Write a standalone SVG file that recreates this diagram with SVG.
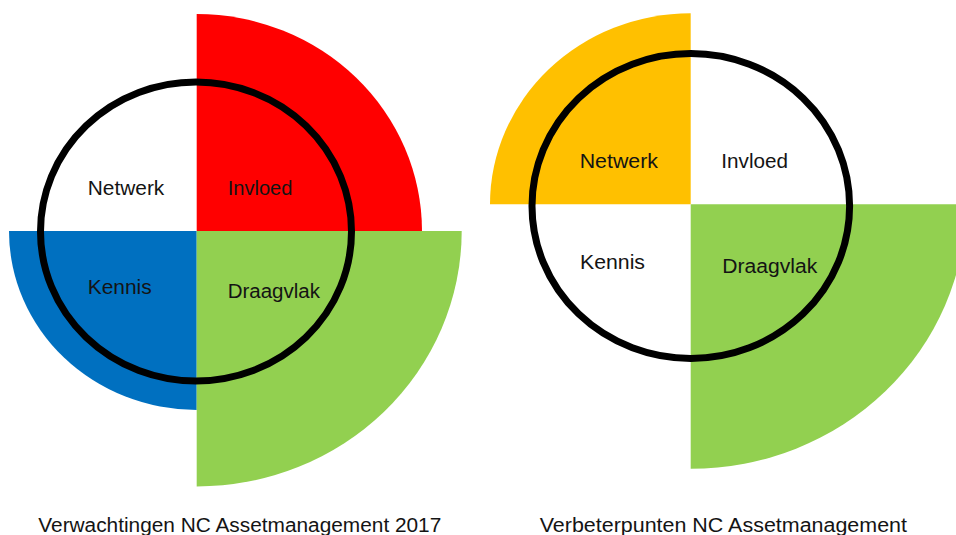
<svg xmlns="http://www.w3.org/2000/svg" width="956" height="535" viewBox="0 0 956 535">
<style>
.lbl{font-family:"Liberation Sans",Arial,sans-serif;font-size:20px;fill:#141414}
.cap{font-family:"Liberation Sans",Arial,sans-serif;font-size:20px;fill:#141414}
.ring{fill:none;stroke:#000;stroke-width:7}
</style>
<rect width="956" height="535" fill="#fff"/>
<g id="left-diagram">
  <g id="left-invloed">
    <path d="M196.7,231 L196.7,14 A225.3,217 0 0 1 422,231 Z" fill="#FF0000"/>
  </g>
  <g id="left-kennis">
    <path d="M196.7,231 L9,231 A187.7,179 0 0 0 196.7,410 Z" fill="#0070C0"/>
  </g>
  <g id="left-draagvlak">
    <path d="M196.7,231 L461.7,231 A265,255.5 0 0 1 196.7,486.5 Z" fill="#92D050"/>
  </g>
  <g id="left-ring">
    <ellipse class="ring" cx="196" cy="231.5" rx="155.5" ry="149.5"/>
  </g>
  <g id="left-labels">
    <text class="lbl" x="87.7" y="195" textLength="76.6" lengthAdjust="spacingAndGlyphs">Netwerk</text>
    <text class="lbl" x="227.7" y="195" textLength="64.7" lengthAdjust="spacingAndGlyphs">Invloed</text>
    <text class="lbl" x="87.7" y="294.3" textLength="64" lengthAdjust="spacingAndGlyphs">Kennis</text>
    <text class="lbl" x="227.7" y="297.7" textLength="92.3" lengthAdjust="spacingAndGlyphs">Draagvlak</text>
  </g>
  <text class="cap" x="38.3" y="532" textLength="403" lengthAdjust="spacingAndGlyphs">Verwachtingen NC Assetmanagement 2017</text>
</g>
<g id="right-diagram">
  <g id="right-netwerk">
    <path d="M690.7,204.3 L490,204.3 A200.7,191 0 0 1 690.7,13.3 Z" fill="#FFC000"/>
  </g>
  <g id="right-draagvlak">
    <path d="M690.7,204.3 L966,204.3 A275.3,264.5 0 0 1 690.7,468.8 Z" fill="#92D050"/>
  </g>
  <g id="right-ring">
    <ellipse class="ring" cx="690.8" cy="206" rx="158.8" ry="152.5"/>
  </g>
  <g id="right-labels">
    <text class="lbl" x="579.7" y="168.3" textLength="78.3" lengthAdjust="spacingAndGlyphs">Netwerk</text>
    <text class="lbl" x="721.3" y="168.3" textLength="66.7" lengthAdjust="spacingAndGlyphs">Invloed</text>
    <text class="lbl" x="580" y="269.3" textLength="65" lengthAdjust="spacingAndGlyphs">Kennis</text>
    <text class="lbl" x="722.3" y="272.7" textLength="95" lengthAdjust="spacingAndGlyphs">Draagvlak</text>
  </g>
  <text class="cap" x="539.7" y="532" textLength="367.3" lengthAdjust="spacingAndGlyphs">Verbeterpunten NC Assetmanagement</text>
</g>
</svg>
